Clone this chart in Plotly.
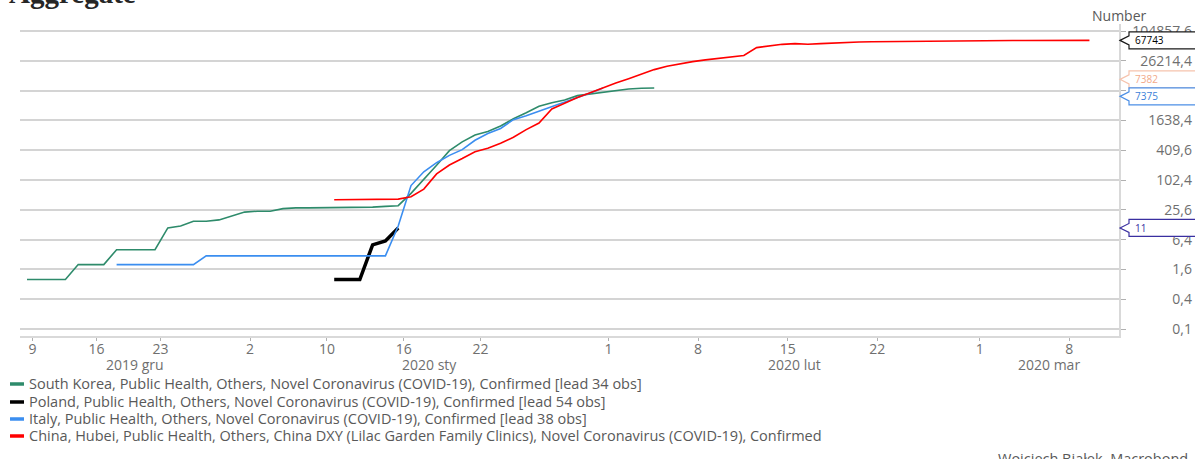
import numpy as np
import plotly.graph_objects as go

# ---------------- data ----------------
# x axis = observation index (0 = first South Korea observation after lead shift)
tick_obs = [0, 5, 10, 17, 23, 29, 35, 45, 52, 59, 66, 74, 81]
tick_labels = ["9", "16", "23", "2", "10", "16", "22", "1", "8", "15", "22", "1", "8"]
month_labels = ["2019 gru", "2020 sty", "2020 lut", "2020 mar"]
month_boundary_obs = [17, 45, 74]

y_tick_vals = [0.1, 0.4, 1.6, 6.4, 25.6, 102.4, 409.6, 1638.4, 6553.6, 26214.4, 104857.6]
y_tick_text = ["0,1", "0,4", "1,6", "6,4", "25,6", "102,4", "409,6", "1638,4", "", "26214,4", "104857,6"]

korea_start = 0
korea = [1, 1, 1, 1, 2, 2, 2, 4, 4, 4, 4, 11, 12, 15, 15, 16, 19, 23, 24, 24,
         27, 28, 28, 28, 28, 28, 28, 29, 30, 31, 55, 104, 204, 400, 602, 833, 977,
         1261, 1766, 2337, 3150, 3736, 4212, 5186, 5621, 6088, 6593, 7041, 7313, 7382]

poland_start = 24
poland = [1, 1, 1, 5, 6, 11]

italy_start = 7
italy = [2, 2, 2, 2, 2, 2, 2,
         3, 3, 3, 3, 3, 3, 3, 3, 3, 3, 3, 3, 3, 3, 3,
         12, 79, 150, 229, 322, 420, 650, 888, 1128, 1694, 2036, 2502, 3089,
         3858, 4636, 5883, 7375]

china_start = 24
china = [41, 41, 41, 41, 41, 42, 47, 67, 136, 206, 278, 382, 447, 564, 746,
         1067, 1450, 2780, 3630, 4750, 5940, 7570, 9330, 11400, 14150,
         17400, 20400, 22950, 25200, 27400, 29550, 31600, 33500, 48400, 52900,
         56400, 58300, 56600, 58400, 60500, 62000, 63000, 63700, 64200, 64700,
         65100, 65400, 65700, 66000, 66300, 66600, 66900, 67100, 67250, 67400,
         67500, 67600, 67660, 67710, 67743]

series_names = [
    "South Korea, Public Health, Others, Novel Coronavirus (COVID-19), Confirmed [lead 34 obs]",
    "Poland, Public Health, Others, Novel Coronavirus (COVID-19), Confirmed [lead 54 obs]",
    "Italy, Public Health, Others, Novel Coronavirus (COVID-19), Confirmed [lead 38 obs]",
    "China, Hubei, Public Health, Others, China DXY (Lilac Garden Family Clinics), Novel Coronavirus (COVID-19), Confirmed",
]

# ---------------- style ----------------
FONT = "Open Sans"
GREEN = "#2e8b6b"
BLACK = "#000000"
BLUE = "#3b8ef0"
RED = "#ff0000"
colors = [GREEN, BLACK, BLUE, RED]
widths = [1.6, 3.5, 1.6, 1.6]

tick_offset = 0.43
x_range = [-0.547, 85.31]
y_range = [-1.1414, 5.162]
x_dom_end = 0.93532

fig = go.Figure()

all_series = [(korea_start, korea), (poland_start, poland), (italy_start, italy), (china_start, china)]
for i, (start, vals) in enumerate(all_series):
    xs = list(range(start, start + len(vals)))
    fig.add_trace(go.Scatter(
        x=xs, y=vals, mode="lines", name=series_names[i],
        line=dict(color=colors[i], width=widths[i]),
        yaxis="y2" if i == 3 else "y",
        showlegend=False,
    ))

fig.update_layout(
    width=1195, height=459,
    margin=dict(l=20, r=0, t=24, b=123),
    paper_bgcolor="white", plot_bgcolor="white",
    font=dict(family=FONT, size=14, color="#595959"),
    xaxis=dict(
        domain=[0, x_dom_end], range=x_range, showgrid=False, zeroline=False,
        showline=True, linecolor="#d9d9d9", linewidth=1.5,
        ticks="outside", ticklen=3, tickcolor="#b0b0b0",
        tickvals=[t + tick_offset for t in tick_obs], ticktext=tick_labels,
        tickfont=dict(size=14, color="#6f6f6f"), ticklabelstandoff=-4,
    ),
    yaxis=dict(
        type="log", range=y_range, side="right", anchor="x",
        showline=True, linecolor="#d9d9d9", linewidth=1.5,
        ticks="outside", ticklen=5, tickcolor="#b0b0b0",
        tickvals=y_tick_vals, showticklabels=False,
        showgrid=True, gridcolor="#d4d4d4", gridwidth=1.6, zeroline=False,
    ),
    yaxis2=dict(
        type="log", range=y_range, overlaying="y", side="left", anchor="free",
        position=0.9974, showgrid=False, showline=False, ticks="", zeroline=False,
        tickvals=y_tick_vals, ticktext=y_tick_text,
        tickfont=dict(size=14, color="#6f6f6f"),
    ),
)

# month labels centred on each month's visible span
bounds = [x_range[0]] + [b + tick_offset for b in month_boundary_obs] + [x_range[1]]
for i, lab in enumerate(month_labels):
    fig.add_annotation(x=(bounds[i] + bounds[i + 1]) / 2, xref="x", y=-0.0929, yref="paper",
                       text=lab, showarrow=False, xanchor="center", yanchor="middle",
                       font=dict(size=14, color="#6f6f6f"))

# legend (manual)
legend_y = [-0.1538, -0.2115, -0.2660, -0.3205]
for i, name in enumerate(series_names):
    fig.add_shape(type="line", xref="paper", yref="paper",
                  x0=-0.0085, x1=0.0034, y0=legend_y[i], y1=legend_y[i],
                  line=dict(color=colors[i], width=3.5))
    fig.add_annotation(x=0.0060, xref="paper", y=legend_y[i], yref="paper", text=name,
                       showarrow=False, xanchor="left", yanchor="middle",
                       font=dict(size=14.5, color="#595959"))

# last-value badges
badges = [
    (china[-1], "#1a1a1a", "#000000", 0),
    (korea[-1], "#f6c3ad", "#f2a98a", 8.7),
    (italy[-1], "#4c8fe6", "#3b7fd8", -8.3),
    (poland[-1], "#3a2fa0", "#3a2fa0", 0),
]
for val, bcol, tcol, s in badges:
    path = (f"M 1,{s} L 10,{s + 4.5} L 10,{s + 8.5} L 85,{s + 8.5} L 85,{s - 8.5} "
            f"L 10,{s - 8.5} L 10,{s - 4.5} Z")
    fig.add_shape(type="path", path=path, xref="x domain", xsizemode="pixel", xanchor=1,
                  yref="y", ysizemode="pixel", yanchor=val,
                  line=dict(color=bcol, width=1.2), fillcolor="white", layer="above")
    fig.add_annotation(x=1, xref="x domain", xshift=14, y=np.log10(val), yref="y", yshift=s,
                       text=str(val), showarrow=False, xanchor="left", yanchor="middle",
                       font=dict(size=10, color=tcol))

# title, unit, credit
fig.add_annotation(x=-0.011, xref="paper", y=1.0417, yref="paper", text="<b>Aggregate</b>",
                   showarrow=False, xanchor="left", yanchor="bottom",
                   font=dict(family="Liberation Serif", size=29, color="#262626"))
fig.add_annotation(x=x_dom_end, xref="paper", y=1.0288, yref="paper", text="Number",
                   showarrow=False, xanchor="center", yanchor="middle",
                   font=dict(size=14, color="#595959"))
fig.add_annotation(x=0.9957, xref="paper", y=-0.394, yref="paper", text="Wojciech Białek, Macrobond",
                   showarrow=False, xanchor="right", yanchor="middle",
                   font=dict(size=14.5, color="#595959"))

fig.write_html("out.html", config={"displayModeBar": False},
               post_script="document.body.style.margin='0';document.body.style.padding='0';")
